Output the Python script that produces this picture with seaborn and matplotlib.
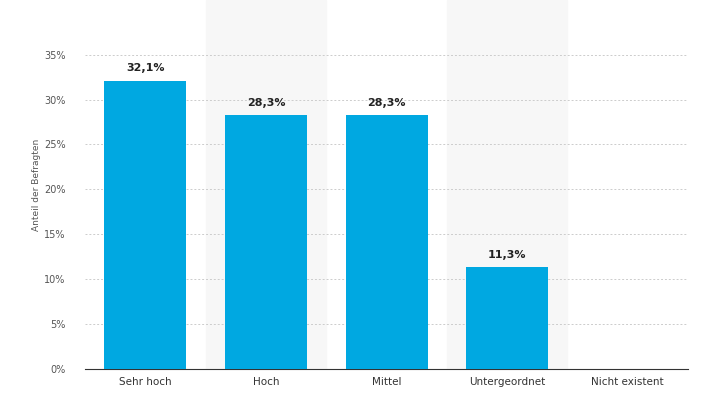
import matplotlib
matplotlib.use("Agg")
import matplotlib.pyplot as plt
import seaborn as sns
import pandas as pd

categories = ["Sehr hoch", "Hoch", "Mittel", "Untergeordnet", "Nicht existent"]
values = [32.1, 28.3, 28.3, 11.3, 0.0]
yticks = [0, 5, 10, 15, 20, 25, 30, 35]

df = pd.DataFrame({"cat": categories, "val": values})

fig = plt.figure(figsize=(7.17, 4.03), dpi=100)
ax = fig.add_axes([0.1186, 0.0844, 0.841, 0.916])

# alternating background bands
for i in range(len(categories)):
    if i % 2 == 1:
        ax.axvspan(i - 0.5, i + 0.5, color="#f7f7f7", zorder=0)

sns.barplot(data=df, x="cat", y="val", color="#00a8e1", width=0.68,
            saturation=1, ax=ax, zorder=3)

for i, v in enumerate(values):
    if v > 0:
        ax.text(i, v + 0.8, f"{v:.1f}%".replace(".", ","), ha="center",
                va="bottom", fontsize=8, fontweight="bold", color="#222222")

ax.set_xlim(-0.5, len(categories) - 0.5)
ax.set_ylim(0, 41.1)
ax.set_yticks(yticks)
ax.set_yticklabels([f"{t}%" for t in yticks], fontsize=7, color="#555555")
ax.tick_params(axis="x", labelsize=7.5, colors="#333333", length=0, pad=6)
ax.tick_params(axis="y", length=0, pad=14)
ax.yaxis.grid(True, linestyle=(0, (2, 2)), color="#cccccc", linewidth=0.7)
ax.set_axisbelow(True)
for s in ["top", "right", "left"]:
    ax.spines[s].set_visible(False)
ax.spines["bottom"].set_color("#333333")
ax.spines["bottom"].set_linewidth(0.8)
ax.set_xlabel("")
ax.set_ylabel("Anteil der Befragten", fontsize=6.5, color="#555555", labelpad=2)

fig.savefig("out.png", dpi=100)
